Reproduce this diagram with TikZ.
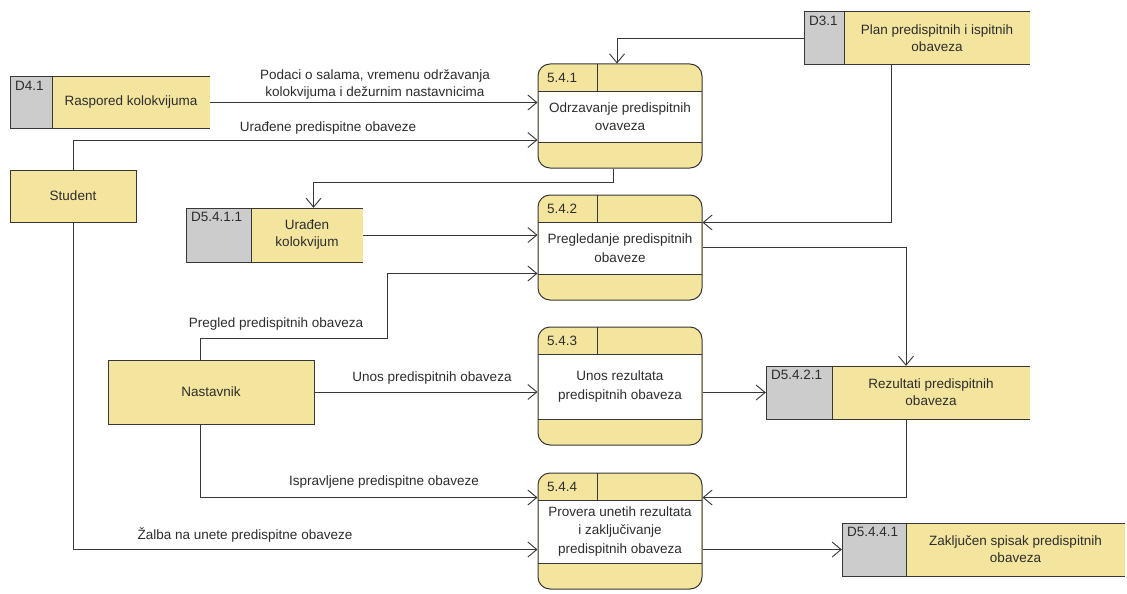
\documentclass[tikz,border=0pt]{standalone}
\usepackage{fontspec}
\setmainfont{Liberation Sans}
\usetikzlibrary{arrows.meta,calc,fit}

\definecolor{dfdyellow}{RGB}{243,229,158}
\definecolor{dfdgray}{RGB}{204,204,204}
\definecolor{dfdline}{RGB}{55,55,55}
\definecolor{dfdtext}{RGB}{45,45,45}

\tikzset{
  flow/.style={draw=dfdline, line width=0.9pt,
    -{Straight Barb[length=9pt,width=15pt,line width=0.9pt]}},
  txt/.style={text=dfdtext, font=\fontsize{13.5}{17}\selectfont, align=center, inner sep=0pt},
  ptxt/.style={txt, font=\fontsize{13.5}{18.5}\selectfont},
  idtxt/.style={text=dfdtext, font=\fontsize{13.5}{15}\selectfont, inner sep=0pt},
  edge line/.style={draw=dfdline, line width=1pt},
  entity/.style={edge line, fill=dfdyellow, inner sep=0pt},
  procbox/.style={edge line, fill=dfdyellow, rounded corners=12pt, inner sep=0pt},
}

% process: name, top, bottom, id, text
\newcommand\dfdprocess[5]{%
  \node[procbox, fit={(538,#2)(702,#3)}] (#1) {};
  \fill[white] (538.6,#2+27) rectangle (701.4,#3-26);
  \draw[edge line] (538,#2+27) -- (702,#2+27);
  \draw[edge line] (538,#3-26) -- (702,#3-26);
  \draw[edge line] (597,#2) -- (597,#2+27);
  \node[idtxt, anchor=west] (#1-id) at (547,#2+13.5) {#4};
  \node[ptxt] (#1-text) at (620,{(#2+#3+1)/2}) {#5};
}

% data store: name, left, top, right, bottom, end of id cell, id, text
\newcommand\dfdstore[8]{%
  \node[fit={(#2,#3)(#4,#5)}, inner sep=0pt, fill=dfdyellow] (#1) {};
  \fill[dfdgray] (#2,#3) rectangle (#6,#5);
  \draw[edge line] (#4,#3) -- (#2,#3) -- (#2,#5) -- (#4,#5);
  \draw[edge line] (#6,#3) -- (#6,#5);
  \node[idtxt, anchor=north west] (#1-id) at (#2+5,#3+4) {#7};
  \node[txt] (#1-text) at ({(#6+#4)/2},{(#3+#5)/2}) {#8};
}

\begin{document}
\begin{tikzpicture}[x=1pt,y=-1pt]
  \useasboundingbox (0,0) rectangle (1127,594);
  \fill[white] (0,0) rectangle (1127,594);

  % processes
  \dfdprocess{p541}{64}{168}{5.4.1}{Odrzavanje predispitnih\\ovaveza}
  \dfdprocess{p542}{195}{300}{5.4.2}{Pregledanje predispitnih\\obaveze}
  \dfdprocess{p543}{327}{445}{5.4.3}{Unos rezultata\\predispitnih obaveza}
  \dfdprocess{p544}{473}{589}{5.4.4}{Provera unetih rezultata\\i zaključivanje\\predispitnih obaveza}

  % data stores
  \dfdstore{d31}{804}{12}{1030}{65}{844}{D3.1}{Plan predispitnih i ispitnih\\obaveza}
  \dfdstore{d41}{10}{77}{210}{128}{52}{D4.1}{Raspored kolokvijuma}
  \dfdstore{d5411}{186}{208}{363}{262}{251}{D5.4.1.1}{Urađen\\kolokvijum}
  \dfdstore{d5421}{766}{366}{1030}{419}{832}{D5.4.2.1}{Rezultati predispitnih\\obaveza}
  \dfdstore{d5441}{842}{523}{1125}{576}{906}{D5.4.4.1}{Zaključen spisak predispitnih\\obaveza}

  % external entities
  \node[entity, fit={(10,170)(136,222)}] (student) {};
  \node[txt] (student-text) at (student.center) {Student};
  \node[entity, fit={(108,360)(314,424)}] (nast) {};
  \node[txt] (nast-text) at (nast.center) {Nastavnik};

  % data flows
  \draw[flow] (d41.east) -- (d41.east -| p541.west);
  \draw[flow] (student.north) |- ($(p541.west)+(0,24)$);
  \draw[flow] (d31.west) -| ($(p541.north)+(-3,0)$);
  \draw[flow] ($(p541.south)+(-7,0)$) -- ++(0,14) -| ($(d5411.north)+(39,0)$);
  \draw[flow] (d5411.east) -- (d5411.east -| p542.west);
  \draw[flow] ($(d31.south west)+(88,0)$) |- ($(p542.north east)+(0,28)$);
  \draw[flow] ($(nast.north)+(-11,0)$) |- ($(p542.south west)+(-150,38)$)
                                       |- ($(p542.south west)+(0,-27)$);
  \draw[flow] (p542.east) -| ($(d5421.north)+(8,0)$);
  \draw[flow] (nast.east) -- (nast.east -| p543.west);
  \draw[flow] (d5421.west -| p543.east) -- (d5421.west);
  \draw[flow] ($(d5421.south)+(8,0)$) |- ($(p544.north east)+(0,25)$);
  \draw[flow] ($(nast.south)+(-11,0)$) |- ($(p544.north west)+(0,25)$);
  \draw[flow] (student.south) |- ($(p544.south west)+(0,-40)$);
  \draw[flow] (d5441.west -| p544.east) -- (d5441.west);

  % flow labels
  \node[txt] (l1) at (375,84) {Podaci o salama, vremenu održavanja\\kolokvijuma i dežurnim nastavnicima};
  \node[txt] (l2) at (328,128) {Urađene predispitne obaveze};
  \node[txt] (l3) at (276,324) {Pregled predispitnih obaveza};
  \node[txt] (l4) at (432,378) {Unos predispitnih obaveza};
  \node[txt] (l5) at (384,482) {Ispravljene predispitne obaveze};
  \node[txt] (l6) at (245,535) {Žalba na unete predispitne obaveze};
\end{tikzpicture}
\end{document}
